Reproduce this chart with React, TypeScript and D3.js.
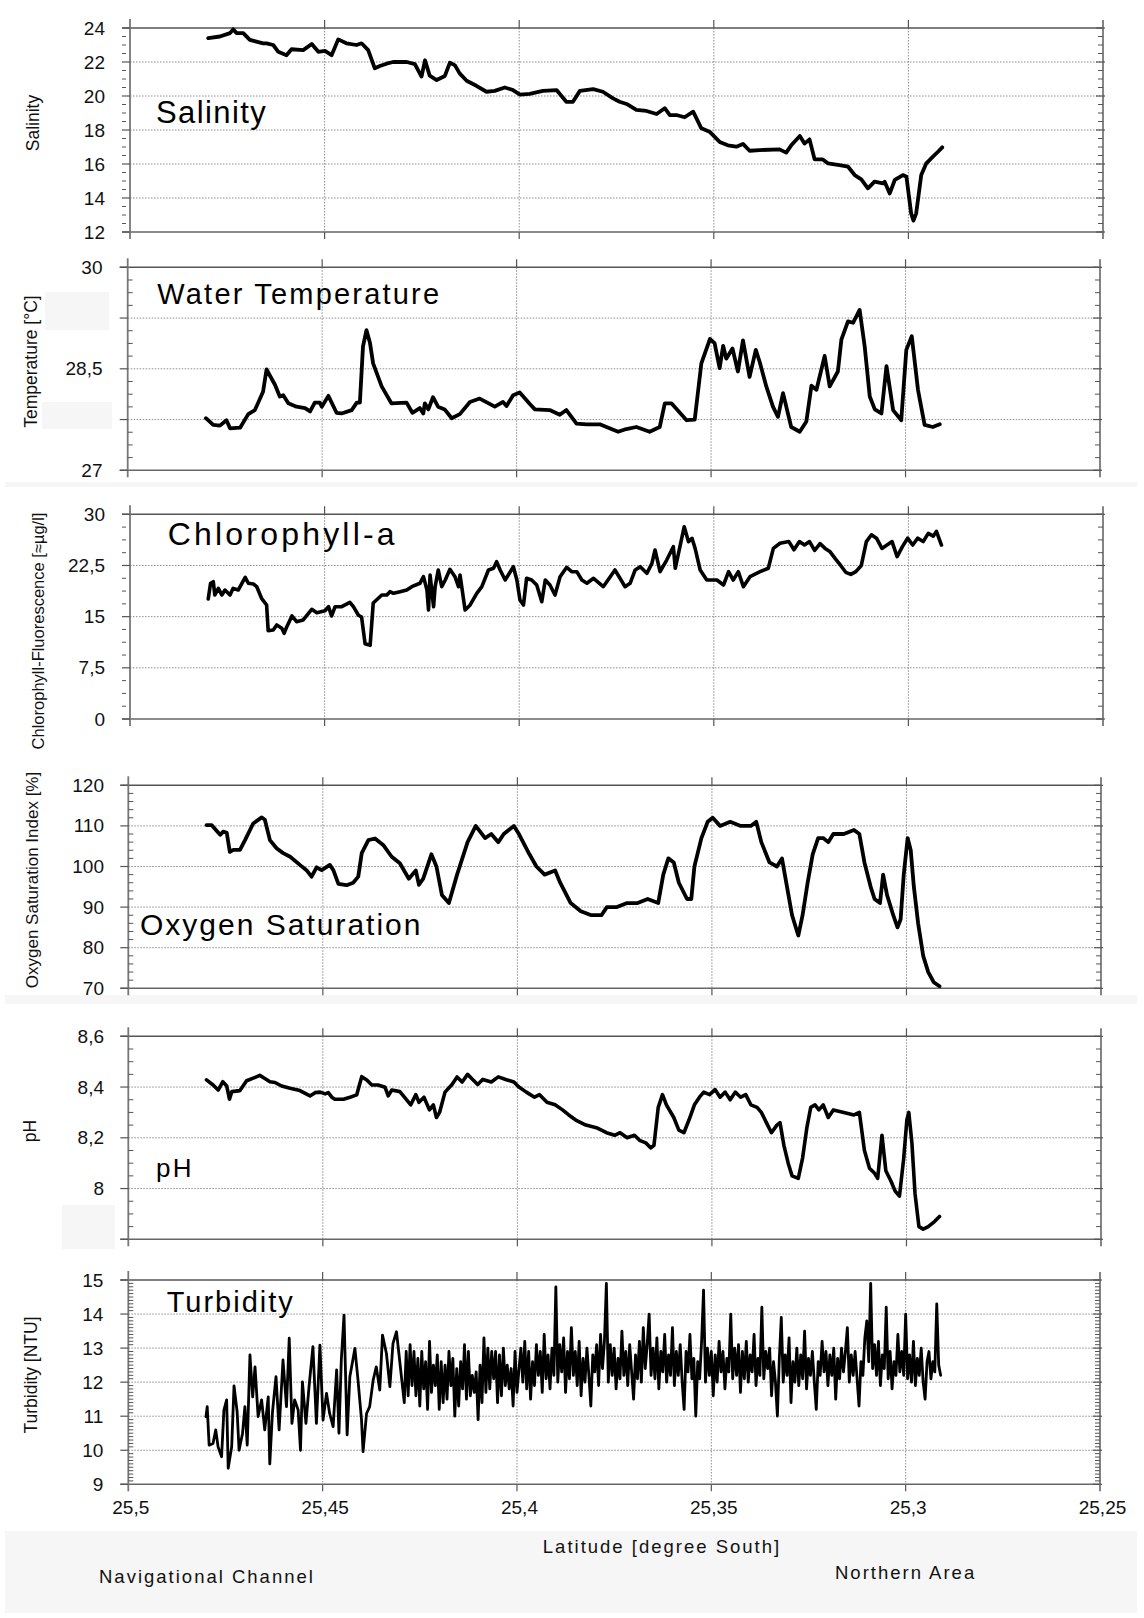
import React from 'react';
import * as d3 from 'd3';

type Pt = [number, number];

// ---------- data ----------
const latitudeTicks = [25.5, 25.45, 25.4, 25.35, 25.3, 25.25];

const salinityTicks = [12, 14, 16, 18, 20, 22, 24];
const temperatureTicks = [27, 27.75, 28.5, 29.25, 30];
const temperatureLabelled = [27, 28.5, 30];
const chlorophyllTicks = [0, 7.5, 15, 22.5, 30];
const oxygenTicks = [70, 80, 90, 100, 110, 120];
const phTicks = [7.8, 8, 8.2, 8.4, 8.6];
const phLabelled = [8, 8.2, 8.4, 8.6];
const turbidityTicks = [9, 10, 11, 12, 13, 14, 15];

const salinityData: Pt[] = [
  [25.4799, 23.4], [25.4769, 23.5], [25.4743, 23.7], [25.4735, 23.92], [25.4726, 23.7], [25.4709, 23.7],
  [25.4692, 23.3], [25.4658, 23.1], [25.4649, 23.1], [25.4632, 23.0], [25.4619, 22.6], [25.4598, 22.4],
  [25.4585, 22.75], [25.4555, 22.7], [25.4533, 23.06], [25.4516, 22.6], [25.4499, 22.65], [25.4482, 22.4],
  [25.4465, 23.33], [25.4444, 23.1], [25.4418, 23.0], [25.4405, 23.1], [25.4388, 22.7], [25.4371, 21.63],
  [25.4358, 21.76], [25.4341, 21.9], [25.4324, 22.0], [25.4307, 22.0], [25.4289, 22.0], [25.4268, 21.88],
  [25.4251, 21.14], [25.4242, 22.1], [25.423, 21.2], [25.4212, 20.94], [25.4191, 21.18], [25.4178, 21.96],
  [25.4165, 21.8], [25.4153, 21.33], [25.4135, 20.9], [25.411, 20.6], [25.4084, 20.25], [25.4063, 20.3],
  [25.4037, 20.5], [25.4016, 20.35], [25.3998, 20.08], [25.3973, 20.12], [25.3939, 20.3], [25.3904, 20.35],
  [25.3879, 19.66], [25.3862, 19.66], [25.3844, 20.3], [25.381, 20.4], [25.3785, 20.25], [25.3759, 19.86],
  [25.3742, 19.66], [25.3724, 19.53], [25.3699, 19.18], [25.3673, 19.12], [25.3647, 18.94], [25.3626, 19.28],
  [25.3613, 18.88], [25.3596, 18.88], [25.3575, 18.75], [25.3553, 19.08], [25.3532, 18.1], [25.3511, 17.9],
  [25.3485, 17.3], [25.3464, 17.1], [25.3442, 17.02], [25.3425, 17.18], [25.3408, 16.78], [25.3382, 16.82],
  [25.3331, 16.86], [25.3314, 16.67], [25.3301, 17.1], [25.3279, 17.65], [25.3267, 17.2], [25.3254, 17.45],
  [25.3241, 16.27], [25.322, 16.27], [25.3207, 16.04], [25.3177, 15.94], [25.3155, 15.84], [25.3138, 15.35],
  [25.3121, 15.1], [25.3104, 14.57], [25.3087, 14.96], [25.3065, 14.86], [25.3061, 14.96], [25.3048, 14.27],
  [25.3035, 15.06], [25.3014, 15.35], [25.3005, 15.25], [25.2993, 13.1], [25.2987, 12.67], [25.298, 13.1],
  [25.2967, 15.35], [25.2954, 16.04], [25.2937, 16.43], [25.2924, 16.72], [25.2913, 16.98],
];

const temperatureData: Pt[] = [
  [25.4799, 27.77], [25.478, 27.67], [25.4763, 27.66], [25.4746, 27.74], [25.4737, 27.62], [25.4711, 27.63],
  [25.469, 27.83], [25.4673, 27.89], [25.4652, 28.16], [25.4643, 28.49], [25.4621, 28.26], [25.4609, 28.09],
  [25.46, 28.11], [25.4587, 27.99], [25.4566, 27.94], [25.4544, 27.92], [25.4531, 27.87], [25.4519, 28.0],
  [25.4506, 28.0], [25.4501, 27.94], [25.4484, 28.1], [25.4463, 27.85], [25.445, 27.84], [25.4424, 27.89],
  [25.4411, 28.0], [25.4403, 28.0], [25.4395, 28.83], [25.4386, 29.07], [25.4377, 28.88], [25.4369, 28.58],
  [25.4347, 28.24], [25.4322, 27.99], [25.4283, 28.0], [25.4268, 27.85], [25.4249, 27.92], [25.424, 27.84],
  [25.4236, 27.99], [25.4227, 27.9], [25.4215, 28.08], [25.4202, 27.94], [25.4185, 27.9], [25.4167, 27.77],
  [25.4146, 27.83], [25.412, 28.01], [25.4095, 28.06], [25.4056, 27.94], [25.4035, 28.01], [25.4026, 27.95],
  [25.4009, 28.11], [25.3992, 28.15], [25.3966, 27.98], [25.3953, 27.9], [25.3915, 27.89], [25.3889, 27.82],
  [25.3872, 27.89], [25.3846, 27.69], [25.382, 27.68], [25.3786, 27.68], [25.3769, 27.64], [25.3739, 27.57],
  [25.3718, 27.61], [25.3692, 27.64], [25.3658, 27.57], [25.3632, 27.64], [25.3619, 27.99], [25.3602, 27.99],
  [25.3563, 27.74], [25.3542, 27.75], [25.3525, 28.58], [25.3503, 28.94], [25.3491, 28.88], [25.3478, 28.51],
  [25.3469, 28.84], [25.3461, 28.65], [25.3445, 28.8], [25.3431, 28.46], [25.3418, 28.92], [25.3401, 28.38],
  [25.3385, 28.78], [25.3375, 28.6], [25.3358, 28.24], [25.3341, 27.94], [25.3328, 27.79], [25.3315, 28.14],
  [25.3294, 27.64], [25.3272, 27.57], [25.3255, 27.72], [25.3242, 28.25], [25.3229, 28.19], [25.3208, 28.69],
  [25.3195, 28.24], [25.3174, 28.46], [25.3165, 28.93], [25.3148, 29.2], [25.3135, 29.18], [25.3118, 29.37],
  [25.3105, 28.83], [25.3092, 28.09], [25.3079, 27.9], [25.3062, 27.84], [25.3049, 28.54], [25.3032, 27.89],
  [25.3011, 27.74], [25.2998, 28.78], [25.2984, 28.98], [25.2968, 28.19], [25.2951, 27.67], [25.293, 27.64],
  [25.2912, 27.68],
];

const chlorophyllData: Pt[] = [
  [25.4799, 17.59], [25.4793, 19.89], [25.4786, 20.12], [25.4782, 18.17], [25.4773, 19.15], [25.4764, 18.17],
  [25.4756, 18.9], [25.4743, 18.17], [25.4735, 19.15], [25.4722, 18.9], [25.4704, 20.77], [25.4696, 19.89],
  [25.4683, 19.79], [25.4674, 19.35], [25.4662, 17.69], [25.4649, 16.71], [25.4645, 12.94], [25.4632, 13.04],
  [25.4623, 13.78], [25.461, 13.29], [25.4604, 12.56], [25.4597, 13.53], [25.4584, 15.1], [25.4572, 14.26],
  [25.4555, 14.51], [25.4533, 16.08], [25.452, 15.58], [25.4499, 15.87], [25.449, 16.46], [25.4482, 15.1],
  [25.4473, 16.46], [25.4456, 16.46], [25.4435, 17.1], [25.4426, 16.46], [25.4413, 15.2], [25.4405, 14.95],
  [25.4396, 11.04], [25.4383, 10.8], [25.4375, 17.0], [25.4362, 17.69], [25.4353, 18.17], [25.434, 18.17],
  [25.4332, 18.66], [25.4323, 18.42], [25.4306, 18.66], [25.4289, 18.9], [25.4276, 19.39], [25.4255, 19.89],
  [25.4246, 20.86], [25.4237, 18.9], [25.4233, 15.97], [25.4229, 21.1], [25.422, 16.46], [25.4216, 19.39],
  [25.4208, 21.84], [25.4199, 19.39], [25.419, 20.37], [25.4178, 21.94], [25.4165, 20.86], [25.4156, 19.39],
  [25.4152, 21.1], [25.4139, 15.97], [25.4126, 16.71], [25.4109, 18.42], [25.4096, 19.39], [25.4079, 21.84],
  [25.4066, 22.09], [25.4058, 23.06], [25.4049, 21.84], [25.4036, 20.37], [25.4028, 21.1], [25.4015, 22.32],
  [25.4006, 20.37], [25.3998, 17.44], [25.3989, 16.71], [25.3981, 20.62], [25.3968, 20.37], [25.3955, 19.64],
  [25.3942, 17.19], [25.3933, 20.37], [25.3921, 19.64], [25.3908, 18.17], [25.3895, 20.86], [25.3878, 22.23],
  [25.3865, 21.59], [25.3852, 21.59], [25.3839, 20.37], [25.3826, 19.89], [25.3809, 20.62], [25.3784, 19.39],
  [25.3766, 20.86], [25.3754, 21.84], [25.3741, 20.62], [25.3728, 19.39], [25.3715, 19.89], [25.3702, 21.84],
  [25.3689, 22.32], [25.3672, 21.35], [25.3659, 22.81], [25.3651, 24.77], [25.3638, 21.59], [25.3621, 23.3],
  [25.3604, 25.25], [25.3599, 22.09], [25.3587, 25.25], [25.3576, 28.18], [25.3565, 25.98], [25.3556, 26.48],
  [25.3548, 25.01], [25.3535, 21.84], [25.3518, 20.37], [25.3492, 20.37], [25.3475, 19.64], [25.3462, 21.59],
  [25.345, 20.37], [25.3437, 21.59], [25.3424, 19.39], [25.3407, 20.86], [25.3381, 21.59], [25.336, 22.09],
  [25.3347, 25.01], [25.333, 25.75], [25.3307, 26.0], [25.3294, 24.8], [25.328, 26.0], [25.3267, 25.5],
  [25.3254, 26.0], [25.3241, 24.7], [25.3227, 25.7], [25.3214, 25.0], [25.3201, 24.5], [25.3188, 23.5],
  [25.3174, 22.5], [25.3161, 21.5], [25.3148, 21.2], [25.3135, 21.6], [25.3121, 22.5], [25.3108, 26.0],
  [25.3095, 27.0], [25.3082, 26.5], [25.3068, 25.0], [25.3055, 25.5], [25.3042, 26.0], [25.3029, 23.8],
  [25.3015, 25.3], [25.3002, 26.5], [25.2989, 25.5], [25.2976, 26.5], [25.2962, 26.0], [25.2949, 27.2],
  [25.2936, 26.8], [25.2928, 27.5], [25.2915, 25.5],
];

const oxygenData: Pt[] = [
  [25.4799, 110.2], [25.4786, 110.2], [25.4764, 107.8], [25.4756, 108.6], [25.4747, 108.3], [25.4739, 103.6],
  [25.473, 104.1], [25.4713, 104.1], [25.47, 106.5], [25.4679, 110.6], [25.4657, 112.1], [25.4649, 111.5],
  [25.4636, 106.5], [25.4619, 104.5], [25.4602, 103.3], [25.4584, 102.4], [25.4559, 100.4], [25.4542, 99.1],
  [25.4529, 97.5], [25.4516, 99.8], [25.4503, 99.1], [25.4482, 100.4], [25.4473, 99.1], [25.446, 95.7],
  [25.4439, 95.4], [25.4422, 96.0], [25.4409, 97.5], [25.44, 103.3], [25.4383, 106.5], [25.4366, 106.9],
  [25.4345, 105.3], [25.4323, 102.4], [25.4302, 100.8], [25.4279, 97], [25.4261, 99], [25.4253, 95.5],
  [25.4242, 97], [25.4221, 103], [25.4208, 100], [25.4194, 93], [25.4176, 91], [25.4155, 98], [25.4128, 106],
  [25.4107, 110], [25.4083, 107], [25.4067, 108], [25.4049, 106], [25.4035, 108], [25.4009, 110],
  [25.3996, 108], [25.3969, 103], [25.3951, 100], [25.393, 98], [25.3903, 99], [25.389, 96], [25.3863, 91],
  [25.3837, 89], [25.381, 88], [25.3784, 88], [25.377, 90], [25.3744, 90], [25.3718, 91], [25.3691, 91],
  [25.3665, 92], [25.3638, 91], [25.3625, 98], [25.3612, 102], [25.3598, 101], [25.3585, 96], [25.3564, 92],
  [25.3553, 92], [25.3545, 100], [25.3527, 107], [25.3511, 111], [25.3498, 112], [25.3479, 110],
  [25.3453, 111], [25.3426, 110], [25.34, 110], [25.3386, 111], [25.3373, 106], [25.3352, 101],
  [25.3333, 100], [25.332, 102], [25.3307, 95], [25.3294, 88], [25.3278, 83], [25.3267, 88], [25.3254, 96],
  [25.3241, 103], [25.3227, 107], [25.3214, 107], [25.3201, 106], [25.3188, 108], [25.3161, 108],
  [25.3135, 109], [25.3121, 108], [25.3108, 101], [25.3092, 95], [25.3082, 92], [25.3068, 91], [25.306, 98],
  [25.305, 93], [25.3034, 88], [25.3023, 85], [25.3015, 87], [25.3007, 98], [25.2997, 107], [25.2989, 104],
  [25.2981, 95], [25.297, 86], [25.2957, 78], [25.2944, 74], [25.293, 71.5], [25.2915, 70.5],
];

const phData: Pt[] = [
  [25.4799, 8.428], [25.4782, 8.408], [25.4769, 8.388], [25.4757, 8.421], [25.4747, 8.404], [25.474, 8.352],
  [25.4734, 8.382], [25.4713, 8.386], [25.4696, 8.425], [25.4674, 8.438], [25.4662, 8.446], [25.4649, 8.434],
  [25.4636, 8.421], [25.4623, 8.418], [25.4606, 8.404], [25.4584, 8.395], [25.4559, 8.386], [25.4533, 8.365],
  [25.452, 8.378], [25.4507, 8.38], [25.4494, 8.373], [25.4486, 8.378], [25.4477, 8.36], [25.4469, 8.352],
  [25.4447, 8.352], [25.443, 8.36], [25.4413, 8.369], [25.4406, 8.408], [25.44, 8.441], [25.4387, 8.428],
  [25.4374, 8.408], [25.4358, 8.408], [25.434, 8.399], [25.4332, 8.365], [25.4323, 8.388], [25.4302, 8.382],
  [25.4274, 8.33], [25.4261, 8.37], [25.4253, 8.34], [25.424, 8.36], [25.4226, 8.31], [25.4216, 8.33],
  [25.4208, 8.28], [25.42, 8.3], [25.4186, 8.38], [25.4168, 8.41], [25.4155, 8.44], [25.4142, 8.42],
  [25.4128, 8.45], [25.4115, 8.43], [25.4102, 8.41], [25.4089, 8.43], [25.4067, 8.42], [25.4049, 8.44],
  [25.403, 8.43], [25.4009, 8.42], [25.3996, 8.4], [25.3977, 8.38], [25.3956, 8.36], [25.3943, 8.37],
  [25.3924, 8.34], [25.3903, 8.33], [25.3884, 8.31], [25.3868, 8.29], [25.385, 8.27], [25.3824, 8.25],
  [25.3797, 8.24], [25.3771, 8.22], [25.375, 8.21], [25.3736, 8.22], [25.3718, 8.2], [25.3699, 8.21],
  [25.3686, 8.19], [25.367, 8.18], [25.3657, 8.16], [25.3649, 8.17], [25.3638, 8.32], [25.3627, 8.37],
  [25.3617, 8.33], [25.3598, 8.28], [25.3585, 8.23], [25.3572, 8.22], [25.3559, 8.27], [25.3545, 8.33],
  [25.3532, 8.36], [25.3521, 8.38], [25.3506, 8.37], [25.3492, 8.39], [25.3479, 8.36], [25.3466, 8.38],
  [25.3453, 8.35], [25.344, 8.38], [25.3426, 8.36], [25.3413, 8.37], [25.34, 8.33], [25.3384, 8.32],
  [25.3373, 8.3], [25.336, 8.26], [25.3347, 8.22], [25.3333, 8.25], [25.3325, 8.26], [25.3315, 8.17],
  [25.3304, 8.1], [25.3294, 8.05], [25.3278, 8.04], [25.3267, 8.12], [25.3256, 8.24], [25.3246, 8.32],
  [25.3235, 8.33], [25.3225, 8.31], [25.3214, 8.33], [25.3201, 8.28], [25.3188, 8.31], [25.3161, 8.3],
  [25.3135, 8.29], [25.3121, 8.3], [25.3108, 8.15], [25.3095, 8.08], [25.3082, 8.06], [25.3074, 8.04],
  [25.3063, 8.21], [25.3053, 8.07], [25.304, 8.03], [25.3029, 7.99], [25.3018, 7.97], [25.3007, 8.12],
  [25.2999, 8.27], [25.2994, 8.3], [25.2986, 8.18], [25.2978, 7.98], [25.2968, 7.85], [25.2957, 7.84],
  [25.2944, 7.85], [25.2928, 7.87], [25.2915, 7.89],
];

const turbidityData: Pt[] = [
  [25.48, 10.99], [25.4797, 11.28], [25.4792, 10.15], [25.4782, 10.2], [25.4775, 10.6], [25.4769, 10.1],
  [25.476, 9.81], [25.4754, 11.18], [25.4747, 11.48], [25.4743, 9.47], [25.4734, 10.1], [25.4728, 11.89],
  [25.472, 11.13], [25.4715, 10.0], [25.4706, 10.5], [25.47, 11.28], [25.4694, 10.15], [25.4687, 12.8],
  [25.468, 11.57], [25.4674, 12.45], [25.4666, 10.99], [25.4657, 11.48], [25.4649, 10.6], [25.464, 11.57],
  [25.4636, 9.6], [25.4629, 11.13], [25.462, 12.16], [25.4612, 10.6], [25.4602, 12.65], [25.4593, 11.28],
  [25.4586, 13.29], [25.4579, 10.79], [25.4572, 11.48], [25.4563, 11.18], [25.4557, 10.0], [25.4552, 12.01],
  [25.4543, 10.79], [25.4535, 11.87], [25.4525, 13.04], [25.4516, 10.79], [25.4507, 13.09], [25.4499, 10.89],
  [25.449, 11.67], [25.4482, 11.08], [25.4473, 10.69], [25.4464, 12.36], [25.4458, 10.5], [25.4452, 12.65],
  [25.4445, 13.97], [25.4437, 10.45], [25.443, 12.16], [25.4417, 12.99], [25.4409, 12.06], [25.44, 10.89],
  [25.4396, 9.96], [25.4387, 11.08], [25.4379, 11.28], [25.437, 12.06], [25.4362, 12.45], [25.4353, 11.77],
  [25.4346, 13.38], [25.4336, 12.85], [25.4327, 11.87], [25.4319, 13.14], [25.431, 13.48], [25.4302, 12.65],
  [25.429, 11.4], [25.4285, 12.9], [25.428, 11.6], [25.4275, 13.1], [25.427, 11.9], [25.4265, 12.9],
  [25.426, 11.6], [25.4255, 12.7], [25.425, 11.3], [25.4245, 12.9], [25.424, 11.8], [25.4235, 12.6],
  [25.423, 11.2], [25.4225, 13.2], [25.422, 11.7], [25.4215, 12.5], [25.421, 11.9], [25.4205, 12.8],
  [25.42, 11.2], [25.4195, 12.6], [25.419, 11.4], [25.4185, 12.5], [25.418, 11.5], [25.4175, 12.9],
  [25.417, 11.9], [25.4165, 12.7], [25.416, 11.0], [25.4155, 12.4], [25.415, 11.3], [25.4145, 12.6],
  [25.414, 11.8], [25.4135, 13.1], [25.413, 11.5], [25.4125, 12.9], [25.412, 11.6], [25.4115, 12.2],
  [25.411, 11.7], [25.4105, 12.3], [25.41, 10.9], [25.4095, 12.5], [25.409, 11.4], [25.4085, 13.3],
  [25.408, 11.7], [25.4075, 13.0], [25.407, 11.8], [25.4065, 12.9], [25.406, 12.1], [25.4055, 12.9],
  [25.405, 11.4], [25.4045, 12.8], [25.404, 11.6], [25.4035, 13.0], [25.403, 11.9], [25.4025, 12.5],
  [25.402, 11.8], [25.4015, 12.4], [25.401, 11.3], [25.4005, 12.9], [25.4, 11.7],
  [25.399, 13.0], [25.3985, 12.0], [25.398, 13.2], [25.3975, 11.8], [25.397, 12.9], [25.3965, 11.5],
  [25.396, 12.6], [25.3955, 11.9], [25.395, 13.1], [25.3945, 12.2], [25.394, 12.9], [25.3935, 11.7],
  [25.393, 13.4], [25.3925, 12.1], [25.392, 12.8], [25.3915, 11.8], [25.391, 13.0], [25.3905, 12.2],
  [25.39, 14.8], [25.3895, 12.0], [25.389, 13.1], [25.3885, 12.3], [25.388, 13.3], [25.3875, 11.7],
  [25.387, 12.9], [25.3865, 12.1], [25.386, 13.6], [25.3855, 12.2], [25.385, 12.9], [25.3845, 11.9],
  [25.384, 13.2], [25.3835, 11.6], [25.383, 12.7], [25.3825, 12.0], [25.382, 13.0], [25.3815, 12.2],
  [25.381, 11.3], [25.3805, 12.8], [25.38, 12.3], [25.3795, 13.1], [25.379, 11.9], [25.3785, 13.4],
  [25.378, 12.4], [25.3775, 13.2], [25.377, 14.9], [25.3765, 12.0], [25.376, 13.1], [25.3755, 12.2],
  [25.375, 13.0], [25.3745, 11.8], [25.374, 12.7], [25.3735, 12.1], [25.373, 13.5], [25.3725, 12.2],
  [25.372, 12.9], [25.3715, 11.9], [25.371, 13.1], [25.3705, 12.3], [25.37, 11.5], [25.3695, 12.8],
  [25.369, 12.1], [25.3685, 13.2], [25.368, 12.0], [25.3675, 13.6], [25.367, 12.4], [25.3665, 13.1],
  [25.366, 14.0], [25.3655, 12.2], [25.365, 13.0], [25.3645, 12.1], [25.364, 13.3], [25.3635, 11.8],
  [25.363, 12.9], [25.3625, 12.3], [25.362, 13.4], [25.3615, 12.0], [25.361, 12.8], [25.3605, 12.2],
  [25.36, 13.6], [25.3595, 11.9], [25.359, 12.9], [25.3585, 12.2], [25.358, 13.1], [25.3575, 12.0],
  [25.357, 11.2], [25.3565, 12.9], [25.356, 12.3], [25.3555, 13.4], [25.355, 12.1], [25.3545, 12.7],
  [25.354, 11.0], [25.3535, 12.6], [25.353, 12.1], [25.3525, 13.2], [25.352, 14.7], [25.3515, 12.0],
  [25.351, 13.0], [25.3505, 12.2], [25.35, 12.9], [25.3495, 11.6], [25.349, 12.8], [25.3485, 12.0],
  [25.348, 13.2], [25.3475, 12.3], [25.347, 12.9], [25.3465, 11.8], [25.346, 12.7], [25.3455, 12.3],
  [25.345, 14.0], [25.3445, 12.1], [25.344, 13.0], [25.3435, 12.2], [25.343, 13.1], [25.3425, 11.7],
  [25.342, 12.9], [25.3415, 12.1], [25.341, 13.2], [25.3405, 12.0], [25.34, 12.8], [25.3395, 12.3],
  [25.339, 13.4], [25.3385, 11.9], [25.338, 12.7], [25.3375, 12.2], [25.337, 14.2], [25.3365, 12.1],
  [25.336, 12.9], [25.3355, 12.4], [25.335, 13.0], [25.3345, 11.6], [25.334, 12.6], [25.3335, 12.0],
  [25.333, 11.0], [25.3325, 12.7], [25.332, 13.9], [25.3315, 12.0], [25.331, 12.8], [25.3305, 12.2],
  [25.33, 13.3], [25.3295, 11.4], [25.329, 12.6], [25.3285, 12.0], [25.328, 13.0], [25.3275, 11.9],
  [25.327, 12.8], [25.3265, 12.1], [25.326, 13.5], [25.3255, 11.8], [25.325, 12.7], [25.3245, 12.2],
  [25.324, 12.9], [25.3235, 12.0], [25.323, 11.2], [25.3225, 12.6], [25.322, 12.2], [25.3215, 13.2],
  [25.321, 12.3], [25.3205, 12.9], [25.32, 11.9], [25.3195, 12.8], [25.319, 12.2], [25.3185, 13.0],
  [25.318, 11.5], [25.3175, 12.7], [25.317, 12.1], [25.3165, 13.0], [25.316, 12.3], [25.3155, 12.9],
  [25.315, 13.6], [25.3145, 12.0], [25.314, 12.8], [25.3135, 12.2], [25.313, 12.9], [25.3125, 12.1],
  [25.312, 11.3], [25.3115, 12.6], [25.311, 12.2], [25.3105, 13.3], [25.31, 13.8], [25.3095, 12.6],
  [25.309, 14.9], [25.3085, 12.4], [25.308, 13.1], [25.3075, 12.2], [25.307, 13.2], [25.3065, 11.9],
  [25.306, 12.8], [25.3055, 12.4], [25.305, 14.2], [25.3045, 12.1], [25.304, 12.9], [25.3035, 11.8],
  [25.303, 12.6], [25.3025, 12.2], [25.302, 13.4], [25.3015, 12.3], [25.301, 12.9], [25.3005, 12.2],
  [25.3, 14.0], [25.2995, 12.1], [25.299, 12.8], [25.2985, 12.0], [25.298, 13.2], [25.2975, 11.9],
  [25.297, 12.7], [25.2965, 12.2], [25.296, 13.0], [25.2955, 12.0], [25.295, 11.5], [25.2945, 12.6],
  [25.294, 12.9], [25.2935, 12.1], [25.293, 12.6], [25.2925, 12.3], [25.292, 14.3], [25.2915, 12.5],
  [25.291, 12.2],
];

// ---------- layout ----------
const FONT = "'Liberation Sans', Arial, Helvetica, sans-serif";
const fmt = (v: number) => String(v).replace('.', ',');

interface PanelSpec {
  data: Pt[];
  domain: [number, number];
  ticks: number[];
  labelled: number[];
  minorStep: number;
  left: number; right: number; top: number; bottom: number;
  title: string; titleX: number; titleY: number; titleSize: number; titleSpacing: number;
  yLabel: string; yLabelX: number; yLabelY: number; yLabelSize: number;
  tickLabelX: number;
  minorOutside: boolean;
  lineWidth: number;
}

const panels: PanelSpec[] = [
  {
    data: salinityData, domain: [12, 24], ticks: salinityTicks, labelled: salinityTicks, minorStep: 0.5,
    left: 130, right: 1103, top: 28, bottom: 232,
    title: 'Salinity', titleX: 156, titleY: 123.3, titleSize: 31, titleSpacing: 1.4,
    yLabel: 'Salinity', yLabelX: 38.5, yLabelY: 123, yLabelSize: 17.5, tickLabelX: 105,
    minorOutside: true, lineWidth: 3.8,
  },
  {
    data: temperatureData, domain: [27, 30], ticks: temperatureTicks, labelled: temperatureLabelled, minorStep: 0.1875,
    left: 127.7, right: 1100, top: 267.3, bottom: 470.3,
    title: 'Water Temperature', titleX: 157.3, titleY: 304.3, titleSize: 29, titleSpacing: 2.2,
    yLabel: 'Temperature [°C]', yLabelX: 37, yLabelY: 361.5, yLabelSize: 17.5, tickLabelX: 102.5,
    minorOutside: false, lineWidth: 3.8,
  },
  {
    data: chlorophyllData, domain: [0, 30], ticks: chlorophyllTicks, labelled: chlorophyllTicks, minorStep: 1.875,
    left: 130, right: 1103, top: 514.3, bottom: 719,
    title: 'Chlorophyll-a', titleX: 167.7, titleY: 545, titleSize: 32, titleSpacing: 3.2,
    yLabel: 'Chlorophyll-Fluorescence [≈µg/l]', yLabelX: 44, yLabelY: 631, yLabelSize: 16.5, tickLabelX: 105,
    minorOutside: true, lineWidth: 3.6,
  },
  {
    data: oxygenData, domain: [70, 120], ticks: oxygenTicks, labelled: oxygenTicks, minorStep: 2,
    left: 128.3, right: 1101, top: 785.3, bottom: 988.3,
    title: 'Oxygen Saturation', titleX: 140, titleY: 935, titleSize: 30, titleSpacing: 2,
    yLabel: 'Oxygen Saturation Index [%]', yLabelX: 37.5, yLabelY: 880, yLabelSize: 17, tickLabelX: 104,
    minorOutside: false, lineWidth: 3.8,
  },
  {
    data: phData, domain: [7.8, 8.6], ticks: phTicks, labelled: phLabelled, minorStep: 0.05,
    left: 128.3, right: 1101, top: 1036.3, bottom: 1239.3,
    title: 'pH', titleX: 156, titleY: 1177, titleSize: 26, titleSpacing: 2.4,
    yLabel: 'pH', yLabelX: 36, yLabelY: 1131, yLabelSize: 17.5, tickLabelX: 104,
    minorOutside: false, lineWidth: 3.6,
  },
  {
    data: turbidityData, domain: [9, 15], ticks: turbidityTicks, labelled: turbidityTicks, minorStep: 0.1,
    left: 128.3, right: 1100, top: 1280, bottom: 1484.3,
    title: 'Turbidity', titleX: 166.7, titleY: 1311.7, titleSize: 29, titleSpacing: 2,
    yLabel: 'Turbidity [NTU]', yLabelX: 37, yLabelY: 1375, yLabelSize: 17.5, tickLabelX: 103.3,
    minorOutside: false, lineWidth: 2.8,
  },
];

const grayPatches = [
  { x: 45, y: 292, w: 64, h: 38 },
  { x: 42, y: 402, w: 70, h: 27 },
  { x: 62, y: 1205, w: 53, h: 44 },
  { x: 5, y: 482, w: 1132, h: 5 },
  { x: 5, y: 995, w: 1132, h: 9 },
  { x: 5, y: 1531, w: 1132, h: 82 },
];

function Panel({ p, showX }: { p: PanelSpec; showX: boolean }) {
  const x = d3.scaleLinear().domain([25.5, 25.25]).range([p.left, p.right]);
  const y = d3.scaleLinear().domain(p.domain).range([p.bottom, p.top]);
  const line = d3.line<Pt>().x((d) => x(d[0])).y((d) => y(d[1]));
  const minors = d3
    .range(p.domain[0], p.domain[1] + 1e-9, p.minorStep)
    .filter((v) => !p.ticks.some((t) => Math.abs(t - v) < 1e-6));
  const innerX = latitudeTicks.slice(1, -1);
  return (
    <g>
      {p.ticks.slice(1, -1).map((t) => (
        <line key={'hg' + t} x1={p.left} x2={p.right} y1={y(t)} y2={y(t)} stroke="#8c8c8c" strokeWidth={1} strokeDasharray="1.5,1.5" />
      ))}
      {innerX.map((t) => (
        <g key={'vg' + t}>
          <line x1={x(t)} x2={x(t)} y1={p.top} y2={p.bottom} stroke="#8c8c8c" strokeWidth={1} strokeDasharray="1.5,1.5" />
          <line x1={x(t)} x2={x(t)} y1={p.top - 8} y2={p.top} stroke="#555" strokeWidth={1.2} />
          <line x1={x(t)} x2={x(t)} y1={p.bottom} y2={p.bottom + 7} stroke="#555" strokeWidth={1.2} />
        </g>
      ))}
      <line x1={p.left - 8} x2={p.right} y1={p.top} y2={p.top} stroke="#555" strokeWidth={1.4} />
      <line x1={p.left - 8} x2={p.right} y1={p.bottom} y2={p.bottom} stroke="#666" strokeWidth={1.6} />
      <line x1={p.left} x2={p.left} y1={p.top - 9} y2={p.bottom + 7} stroke="#777" strokeWidth={1.8} />
      <line x1={p.right} x2={p.right} y1={p.top - 8} y2={p.bottom + 7} stroke="#777" strokeWidth={1.8} />
      {p.ticks.map((t) => (
        <g key={'mt' + t}>
          <line x1={p.left - 8} x2={p.left} y1={y(t)} y2={y(t)} stroke="#555" strokeWidth={1.2} />
          <line x1={p.right - 7} x2={p.right + 2} y1={y(t)} y2={y(t)} stroke="#555" strokeWidth={1.2} />
        </g>
      ))}
      {minors.map((t) => (
        <g key={'mn' + t}>
          {p.minorOutside ? (
            <line x1={p.left - 8} x2={p.left - 4} y1={y(t)} y2={y(t)} stroke="#555" strokeWidth={1} />
          ) : (
            <line x1={p.left} x2={p.left + 5} y1={y(t)} y2={y(t)} stroke="#555" strokeWidth={1} />
          )}
          <line x1={p.right - 5} x2={p.right} y1={y(t)} y2={y(t)} stroke="#555" strokeWidth={1} />
        </g>
      ))}
      {p.labelled.map((t) => (
        <text key={'tl' + t} x={p.tickLabelX} y={y(t) + 6.5} textAnchor="end" fontFamily={FONT} fontSize={19} fill="#111">
          {fmt(t)}
        </text>
      ))}
      <path d={line(p.data) || ''} fill="none" stroke="#000" strokeWidth={p.lineWidth} strokeLinejoin="round" strokeLinecap="round" />
      <text x={p.titleX} y={p.titleY} fontFamily={FONT} fontSize={p.titleSize} fill="#000" style={{ letterSpacing: p.titleSpacing + 'px' }}>
        {p.title}
      </text>
      <text transform={`translate(${p.yLabelX},${p.yLabelY}) rotate(-90)`} textAnchor="middle" fontFamily={FONT} fontSize={p.yLabelSize} fill="#111">
        {p.yLabel}
      </text>
      {showX &&
        latitudeTicks.map((t) => (
          <text key={'xl' + t} x={x(t) + 2.5} y={1514} textAnchor="middle" fontFamily={FONT} fontSize={19} fill="#111">
            {fmt(t)}
          </text>
        ))}
    </g>
  );
}

export default function App() {
  return (
    <svg width={1144} height={1618} style={{ position: 'absolute', left: 0, top: 0, display: 'block', background: '#fff' }}>
      <rect x={0} y={0} width={1144} height={1618} fill="#fff" />
      {grayPatches.map((g, i) => (
        <rect key={i} x={g.x} y={g.y} width={g.w} height={g.h} fill="#f6f6f6" />
      ))}
      {panels.map((p, i) => (
        <Panel key={i} p={p} showX={i === panels.length - 1} />
      ))}
      <text x={662} y={1553} textAnchor="middle" fontFamily={FONT} fontSize={18.5} fill="#111" style={{ letterSpacing: '2px' }}>
        Latitude [degree South]
      </text>
      <text x={99} y={1583} fontFamily={FONT} fontSize={18.5} fill="#111" style={{ letterSpacing: '2px' }}>
        Navigational Channel
      </text>
      <text x={835} y={1579.3} fontFamily={FONT} fontSize={18.5} fill="#111" style={{ letterSpacing: '2px' }}>
        Northern Area
      </text>
    </svg>
  );
}
